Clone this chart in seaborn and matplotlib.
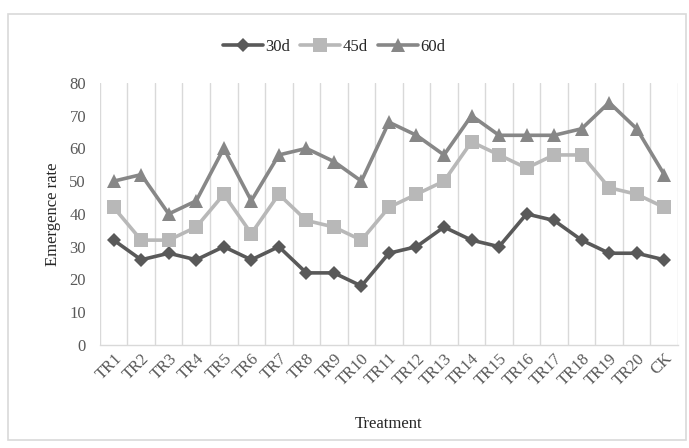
import matplotlib
matplotlib.use("Agg")
import matplotlib.pyplot as plt
from matplotlib.patches import Rectangle
import seaborn as sns
import pandas as pd

# Emergence rate per treatment
treatments = ["TR1", "TR2", "TR3", "TR4", "TR5", "TR6", "TR7", "TR8", "TR9", "TR10",
              "TR11", "TR12", "TR13", "TR14", "TR15", "TR16", "TR17", "TR18", "TR19", "TR20", "CK"]
d30 = [32, 26, 28, 26, 30, 26, 30, 22, 22, 18, 28, 30, 36, 32, 30, 40, 38, 32, 28, 28, 26]
d45 = [42, 32, 32, 36, 46, 34, 46, 38, 36, 32, 42, 46, 50, 62, 58, 54, 58, 58, 48, 46, 42]
d60 = [50, 52, 40, 44, 60, 44, 58, 60, 56, 50, 68, 64, 58, 70, 64, 64, 64, 66, 74, 66, 52]
series_names = ["30d", "45d", "60d"]

rows = []
for name, vals in zip(series_names, [d30, d45, d60]):
    for i, v in enumerate(vals):
        rows.append({"pos": i, "Treatment": treatments[i], "rate": v, "series": name})
df = pd.DataFrame(rows)

sns.set_style("white")
plt.rcParams["font.family"] = ["Liberation Serif", "DejaVu Serif"]

fig = plt.figure(figsize=(6.89, 4.48), dpi=100)
ax = fig.add_axes([0.145, 0.230, 0.839, 0.585])

palette = {"30d": "#595959", "45d": "#b8b8b8", "60d": "#878787"}
markers = {"30d": "D", "45d": "s", "60d": "^"}
sizes = {"30d": 7, "45d": 10, "60d": 10}

for name in series_names:
    sub = df[df["series"] == name]
    sns.lineplot(data=sub, x="pos", y="rate", ax=ax, color=palette[name],
                 marker=markers[name], markersize=sizes[name], markeredgewidth=0,
                 linewidth=2.6, label=name)

ax.set_xlim(-0.5, len(treatments) - 0.5)
ax.set_ylim(0, 80)
ax.set_yticks(range(0, 81, 10))
ax.set_xticks(range(len(treatments)))
ax.set_xticklabels(treatments, rotation=45, ha="right", rotation_mode="anchor", fontsize=12, color="#595959")
ax.set_xticks([i - 0.5 for i in range(len(treatments) + 1)], minor=True)
ax.tick_params(axis="y", labelsize=12, labelcolor="#595959", length=0, pad=10)
ax.tick_params(axis="x", which="both", length=0, pad=4)
ax.grid(False)
ax.grid(True, which="minor", axis="x", color="#d9d9d9", linewidth=1)
for s in ["top", "right", "left"]:
    ax.spines[s].set_visible(False)
ax.spines["bottom"].set_color("#d9d9d9")
ax.spines["bottom"].set_linewidth(1)

ax.set_xlabel("Treatment", fontsize=12, labelpad=20)
ax.set_ylabel("Emergence rate", fontsize=12, labelpad=6)

ax.legend(loc="lower center", bbox_to_anchor=(0.405, 1.05), ncol=3, frameon=False,
          fontsize=12, handlelength=2.4, columnspacing=0.6, handletextpad=0.15)

fig.patches.append(Rectangle((8 / 689, 1 - 440 / 448), 678 / 689, 426 / 448,
                             transform=fig.transFigure, fill=False,
                             edgecolor="#d9d9d9", linewidth=1.2))

fig.savefig("out.png", dpi=100)
